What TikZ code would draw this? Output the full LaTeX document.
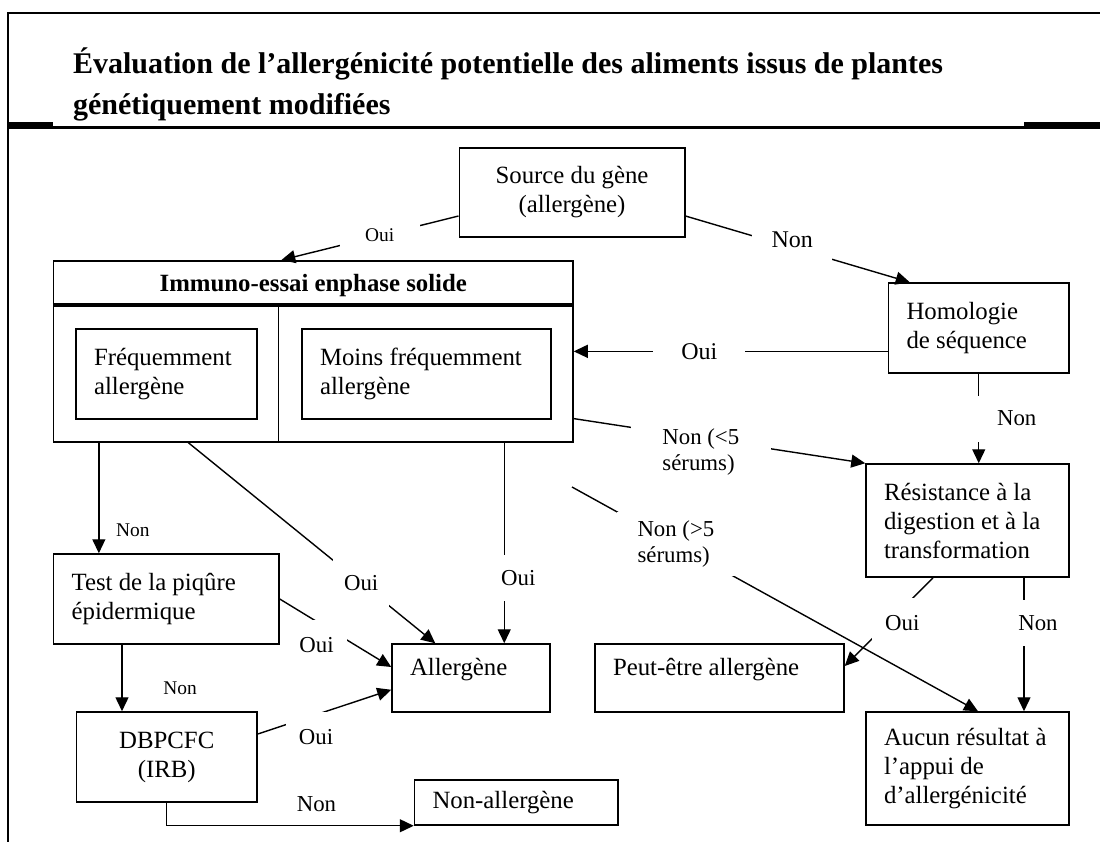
\documentclass[tikz,border=0pt]{standalone}
\usepackage{fontspec}
\setmainfont{Liberation Serif}
\usetikzlibrary{arrows.meta, positioning, calc}

\begin{document}
\begin{tikzpicture}[
  x=0.5pt, y=-0.5pt,
  titre/.style={anchor=north west, inner sep=0pt, align=flush left, text width=480pt,
                font=\bfseries\fontsize{15}{20.5}\selectfont},
  boite/.style={draw, line width=0.75pt, align=flush left, inner xsep=9pt, inner ysep=0pt,
                font=\fontsize{12.4}{14.5}\selectfont},
  cadre/.style={draw, line width=0.75pt, inner sep=0pt},
  fleche/.style={-{Triangle[length=7pt,width=6.5pt]}, line width=0.7pt},
  lab/.style={fill=white, inner sep=2pt, font=\fontsize{12}{14}\selectfont},
  moyen/.style={font=\fontsize{11.4}{13}\selectfont},
  petit/.style={font=\fontsize{9.7}{11.5}\selectfont},
]

% ---- cadre et titre ----
\useasboundingbox (0,0) rectangle (1100,842);
\draw[line width=1pt] (1100,13) -- (8,13) -- (8,842);
\fill (8,126) rectangle (1100,129);
\fill (8,122) rectangle (53,129);
\fill (1024,122) rectangle (1100,129);
\node[titre] (titre) at (72.7,47)
  {Évaluation de l’allergénicité potentielle des aliments issus de plantes\\génétiquement modifiées};

% ---- boites ----
\node[boite, align=flush center, text width=94.75pt, minimum height=44.5pt] (src) at (572,192.5) {Source du gène\\(allergène)};
\node[cadre, minimum width=259.7pt, minimum height=90.5pt] (immuno) at (313.3,351.35) {};
\node[font=\bfseries\fontsize{12.4}{14.5}\selectfont] (immtitre) at (313.3,286) {Immuno-essai enphase solide};
\draw[line width=2pt] ($(immuno.north west)+(0,45)$) -- ($(immuno.north east)+(0,45)$);
\draw[line width=0.75pt] ($(immuno.north west)+(225.4,45)$) -- ($(immuno.south west)+(225.4,0)$);
\node[boite, text width=72.5pt, minimum height=45pt] (freq) at (166.5,374) {Fréquemment\\allergène};
\node[boite, text width=106.5pt, minimum height=45pt] (moins) at (426.5,374) {Moins fréquemment\\allergène};
\node[boite, text width=72.25pt, minimum height=45pt] (homol) at (978.75,328) {Homologie\\de séquence};
\node[boite, text width=83.5pt, minimum height=56.5pt] (resist) at (967.5,520.5) {Résistance à la\\digestion et à la\\transformation};
\node[boite, text width=94.7pt, minimum height=45pt] (test) at (166.3,599) {Test de la piqûre\\épidermique};
\node[boite, text width=61pt, minimum height=34pt, text depth=11pt] (allerg) at (471,678) {Allergène};
\node[boite, text width=106.5pt, minimum height=34pt, text depth=11pt] (peut) at (719.5,678) {Peut-être allergène};
\node[boite, align=flush center, text width=72.25pt, minimum height=45pt] (dbpcfc) at (166.75,757) {DBPCFC\\(IRB)};
\node[boite, text width=83.75pt, minimum height=22.5pt] (nonall) at (516.25,802.5) {Non-allergène};
\node[boite, text width=83.5pt, minimum height=56.5pt] (aucun) at (967.5,768.5) {Aucun résultat à\\l’appui de\\d’allergénicité};

% ---- points de depart ----
\coordinate (sortieN) at ($(immuno.south west)+(46,0)$);
\coordinate (sortieO) at ($(immuno.south west)+(451.4,0)$);
\coordinate (sortieT) at ($(test.south)+(-44.3,0)$);
\coordinate (sortieR) at ($(resist.south)+(56.5,0)$);
\coordinate (depart) at (572,487);

% ---- liaisons ----
\draw[fleche] ($(src.west)+(0,23.5)$) -- node[lab, petit, pos=.445, minimum width=40pt, minimum height=15pt] {Oui} ($(immuno.north)+(-32,0)$);
\draw[fleche] ($(src.east)+(0,23.5)$) -- node[lab, pos=.476, yshift=4pt, minimum width=40pt, minimum height=24pt] {Non} ($(homol.north)+(-69,0)$);
\draw[fleche] (homol.west |- immuno.east) -- node[lab, pos=.6, minimum width=46pt] {Oui} (immuno.east);
\draw[fleche] (homol.south) -- node[lab, moyen, pos=.5, xshift=19pt, minimum width=42pt, minimum height=23pt] {Non} (homol.south |- resist.north);
\draw[fleche] ($(immuno.south east)+(0,-24)$) -- node[lab, moyen, align=left, pos=.436, yshift=-7pt, minimum width=70pt, minimum height=24pt] {Non (<5\\sérums)} (resist.north west);
\draw[fleche] (depart) -- node[lab, moyen, align=left, pos=.256, minimum width=59pt, minimum height=32pt] {Non (>5\\sérums)} ($(aucun.north)+(10.5,0)$);

% Immuno -> tests
\draw[fleche] (sortieN) -- node[petit, pos=.79, xshift=17pt] {Non} (sortieN |- test.north);
\draw[fleche] ($(immuno.south west)+(135.4,0)$) -- node[lab, moyen, pos=.7, minimum width=28pt, minimum height=24pt] {Oui} ($(allerg.north west)+(44,0)$);
\draw[fleche] (sortieO) -- node[lab, moyen, pos=.677, xshift=7pt, minimum height=23pt] {Oui} (sortieO |- allerg.north);

% test cutane et DBPCFC
\draw[fleche] (test.east) -- node[lab, moyen, pos=.33, yshift=-12pt, minimum width=30pt, minimum height=25pt] {Oui} ($(allerg.west)+(0,-11)$);
\draw[fleche] (sortieT) -- node[petit, pos=.65, xshift=29pt] {Non} (sortieT |- dbpcfc.north);
\draw[fleche] ($(dbpcfc.east)+(0,-23)$) -- node[lab, moyen, pos=.437, yshift=-11pt, minimum width=30pt, minimum height=25pt] {Oui} ($(allerg.south west)+(0,-23)$);
\draw[fleche] (dbpcfc.south) |- node[moyen, pos=.803, yshift=11pt] {Non} (nonall.south west);

% digestion
\draw[fleche] ($(resist.south)+(-34.5,0)$) -- node[lab, moyen, pos=.348, yshift=-7.5pt, minimum width=30pt, minimum height=25pt] {Oui} ($(peut.east)+(0,-12)$);
\draw[fleche] (sortieR) -- node[lab, moyen, pos=.34, xshift=7pt, minimum height=23pt] {Non} (sortieR |- aucun.north);

\end{tikzpicture}
\end{document}
